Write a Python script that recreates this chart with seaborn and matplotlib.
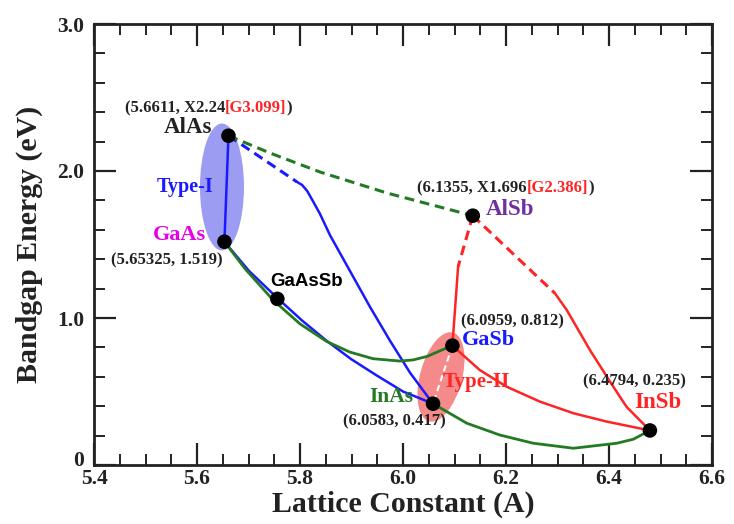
import numpy as np
import pandas as pd
import matplotlib
matplotlib.use("Agg")
import matplotlib.pyplot as plt
import matplotlib.transforms as mtrans
from matplotlib.patches import Ellipse
from matplotlib.ticker import MultipleLocator
import seaborn as sns

# ---------------- data ----------------
materials = ["AlAs", "GaAs", "AlSb", "GaSb", "InAs", "InSb", "GaAsSb"]
lattice = [5.6611, 5.65325, 6.1355, 6.0959, 6.0583, 6.4794, 5.756]
bandgap = [2.24, 1.519, 1.696, 0.812, 0.417, 0.235, 1.13]

# blue: AlAs-GaAs (vertical), AlAs->InAs (dashed then solid), GaAs->InAs
blue_v_x = [5.6611, 5.65325]
blue_v_y = [2.24, 1.519]
blue_dash_x = [5.6611, 5.7936]
blue_dash_y = [2.24, 1.927]
blue_top_x = [5.7936, 5.804, 5.814, 5.825, 5.839, 5.858, 5.897, 5.936, 5.975, 6.014, 6.0583]
blue_top_y = [1.927, 1.905, 1.864, 1.796, 1.707, 1.565, 1.320, 1.075, 0.844, 0.626, 0.417]
blue_low_x = [5.65325, 5.701, 5.756, 5.804, 5.852, 5.899, 5.949, 6.000, 6.0583]
blue_low_y = [1.519, 1.320, 1.136, 0.983, 0.844, 0.721, 0.609, 0.500, 0.417]

# green: AlAs->AlSb dashed, GaAs->GaSb, InAs->InSb
green_dash_x = [5.6611, 5.742, 5.839, 5.969, 6.1355]
green_dash_y = [2.24, 2.122, 1.993, 1.850, 1.696]
green_up_x = [5.65325, 5.693, 5.748, 5.800, 5.852, 5.897, 5.942, 5.994, 6.020, 6.047, 6.072, 6.0959]
green_up_y = [1.519, 1.336, 1.121, 0.960, 0.840, 0.768, 0.723, 0.707, 0.715, 0.739, 0.777, 0.812]
green_low_x = [6.0583, 6.124, 6.188, 6.253, 6.331, 6.415, 6.447, 6.4794]
green_low_y = [0.417, 0.284, 0.204, 0.148, 0.114, 0.148, 0.175, 0.235]

# red: AlSb->GaSb, AlSb->InSb, GaSb->InSb
red_d1_x = [6.1355, 6.107]
red_d1_y = [1.696, 1.349]
red_s1_x = [6.107, 6.0959]
red_s1_y = [1.349, 0.812]
red_d2_x = [6.1355, 6.295]
red_d2_y = [1.696, 1.168]
red_s2_x = [6.295, 6.318, 6.363, 6.402, 6.434, 6.4794]
red_s2_y = [1.168, 1.054, 0.782, 0.567, 0.396, 0.235]
red_s3_x = [6.0959, 6.149, 6.201, 6.266, 6.331, 6.396, 6.4794]
red_s3_y = [0.812, 0.646, 0.533, 0.431, 0.352, 0.295, 0.235]

# white dashed GaSb->InAs
white_x = [6.0959, 6.0583]
white_y = [0.812, 0.417]

x_ticks = [5.4, 5.6, 5.8, 6.0, 6.2, 6.4, 6.6]
x_ticklabels = ["5.4", "5.6", "5.8", "6.0", "6.2", "6.4", "6.6"]
y_ticks = [0, 1, 2, 3]
y_ticklabels = ["0", "1.0", "2.0", "3.0"]

# ---------------- style ----------------
sns.set_theme(style="ticks")
plt.rcParams["font.family"] = ["Liberation Serif", "DejaVu Serif"]
plt.rcParams["font.weight"] = "bold"

fig = plt.figure(figsize=(7.34, 5.24), dpi=100)
ax = fig.add_axes([94 / 734, 1 - 465 / 524, (712 - 94) / 734, (465 - 24) / 524])

BLUE = "#1a1aff"
GREEN = "#237a23"
RED = "#ff2424"
INK = "#222222"

def ellipse(cx, cy, w_in, h_in, angle, color):
    trans = fig.dpi_scale_trans + mtrans.ScaledTranslation(cx, cy, ax.transData)
    e = Ellipse((0, 0), w_in, h_in, angle=angle, transform=trans,
                facecolor=color, edgecolor="none", zorder=1)
    ax.add_patch(e)

ellipse(5.6485, 1.891, 0.44, 1.27, 0, "#9c9cf2")
ellipse(6.0738, 0.599, 0.42, 0.92, -15, "#f58a8a")

def line(xs, ys, color, ls="-", lw=1.8, z=2):
    sns.lineplot(x=xs, y=ys, color=color, linestyle=ls, linewidth=lw,
                 sort=False, estimator=None, ax=ax, zorder=z)

DASH = (0, (3.2, 1.9))
line(blue_v_x, blue_v_y, BLUE)
line(blue_dash_x, blue_dash_y, BLUE, DASH, 2.2)
line(blue_top_x, blue_top_y, BLUE)
line(blue_low_x, blue_low_y, BLUE)
line(green_dash_x, green_dash_y, GREEN, DASH, 2.2)
line(green_up_x, green_up_y, GREEN, "-", 2.0)
line(green_low_x, green_low_y, GREEN, "-", 2.0)
line(red_d1_x, red_d1_y, RED, DASH, 2.2)
line(red_s1_x, red_s1_y, RED)
line(red_d2_x, red_d2_y, RED, DASH, 2.2)
line(red_s2_x, red_s2_y, RED)
line(red_s3_x, red_s3_y, RED)
line(white_x, white_y, "white", (0, (3, 2)), 1.5, 3)

sns.scatterplot(x=lattice, y=bandgap, color="black", s=110, edgecolor="none",
                ax=ax, zorder=5)

# ---------------- axes ----------------
ax.set_xlim(5.4, 6.6)
ax.set_ylim(0, 3.0)
ax.set_xticks(x_ticks)
ax.set_xticklabels(x_ticklabels)
ax.set_yticks(y_ticks)
ax.set_yticklabels(y_ticklabels)
ax.xaxis.set_minor_locator(MultipleLocator(0.05))
ax.yaxis.set_minor_locator(MultipleLocator(0.2))
ax.tick_params(which="both", direction="in", top=True, right=True, color=INK)
ax.tick_params(which="major", length=16, width=1.6, labelsize=15.5)
ax.tick_params(axis="x", which="major", pad=3)
ax.tick_params(axis="y", which="major", pad=7)
ax.tick_params(which="minor", length=8, width=1.4)
for lab in ax.get_xticklabels() + ax.get_yticklabels():
    lab.set_fontweight("bold")
    lab.set_color(INK)
# lift the "0" label a little, as in the reference
zero = ax.get_yticklabels()[0]
zero.set_transform(zero.get_transform() + mtrans.ScaledTranslation(0, 0.06, fig.dpi_scale_trans))
for sp in ax.spines.values():
    sp.set_linewidth(2.0)
    sp.set_color(INK)
ax.set_xlabel("Lattice Constant (A)", fontsize=21.5, fontweight="bold", color=INK, labelpad=1)
ax.set_ylabel("Bandgap Energy (eV)", fontsize=21.5, fontweight="bold", color=INK, labelpad=10)

# ---------------- annotations ----------------
def txt(x, y, s, color=INK, size=12, ha="center", family=None):
    kw = dict(fontsize=size, fontweight="bold", color=color, ha=ha, va="center", zorder=6)
    if family:
        kw["family"] = family
    return ax.text(x, y, s, **kw)

def multi(x, y, parts, size=12):
    t = ax.text(x, y, parts[0][0], color=parts[0][1], fontsize=size, fontweight="bold",
                ha="left", va="center", zorder=6)
    prev = t
    for s, c in parts[1:]:
        prev = ax.annotate(s, xy=(1, 0), xycoords=prev, va="bottom", ha="left",
                           color=c, fontsize=size, fontweight="bold", zorder=6)
    return t

multi(5.460, 2.429, [("(5.6611, X2.24", INK), ("[G3.099]", RED), (")", INK)])
txt(5.5825, 2.293, "AlAs", size=16.5)
txt(5.577, 1.893, "Type-I", BLUE, 14.5)
txt(5.565, 1.565, "GaAs", "#e600e6", 16)
txt(5.542, 1.395, "(5.65325, 1.519)")
txt(5.812, 1.247, "GaAsSb", "black", 13.5, family=["Liberation Sans", "DejaVu Sans"])
multi(6.027, 1.884, [("(6.1355, X1.696", INK), ("[G2.386]", RED), (")", INK)])
txt(6.208, 1.735, "AlSb", "#7030a0", 16.5)
txt(6.212, 0.975, "(6.0959, 0.812)")
txt(6.165, 0.850, "GaSb", BLUE, 16)
txt(6.143, 0.567, "Type-II", RED, 15)
txt(5.978, 0.465, "InAs", GREEN, 15.5)
txt(5.984, 0.299, "(6.0583, 0.417)")
txt(6.449, 0.567, "(6.4794, 0.235)")
txt(6.494, 0.422, "InSb", RED, 16.5)

fig.savefig("out.png", dpi=100)
